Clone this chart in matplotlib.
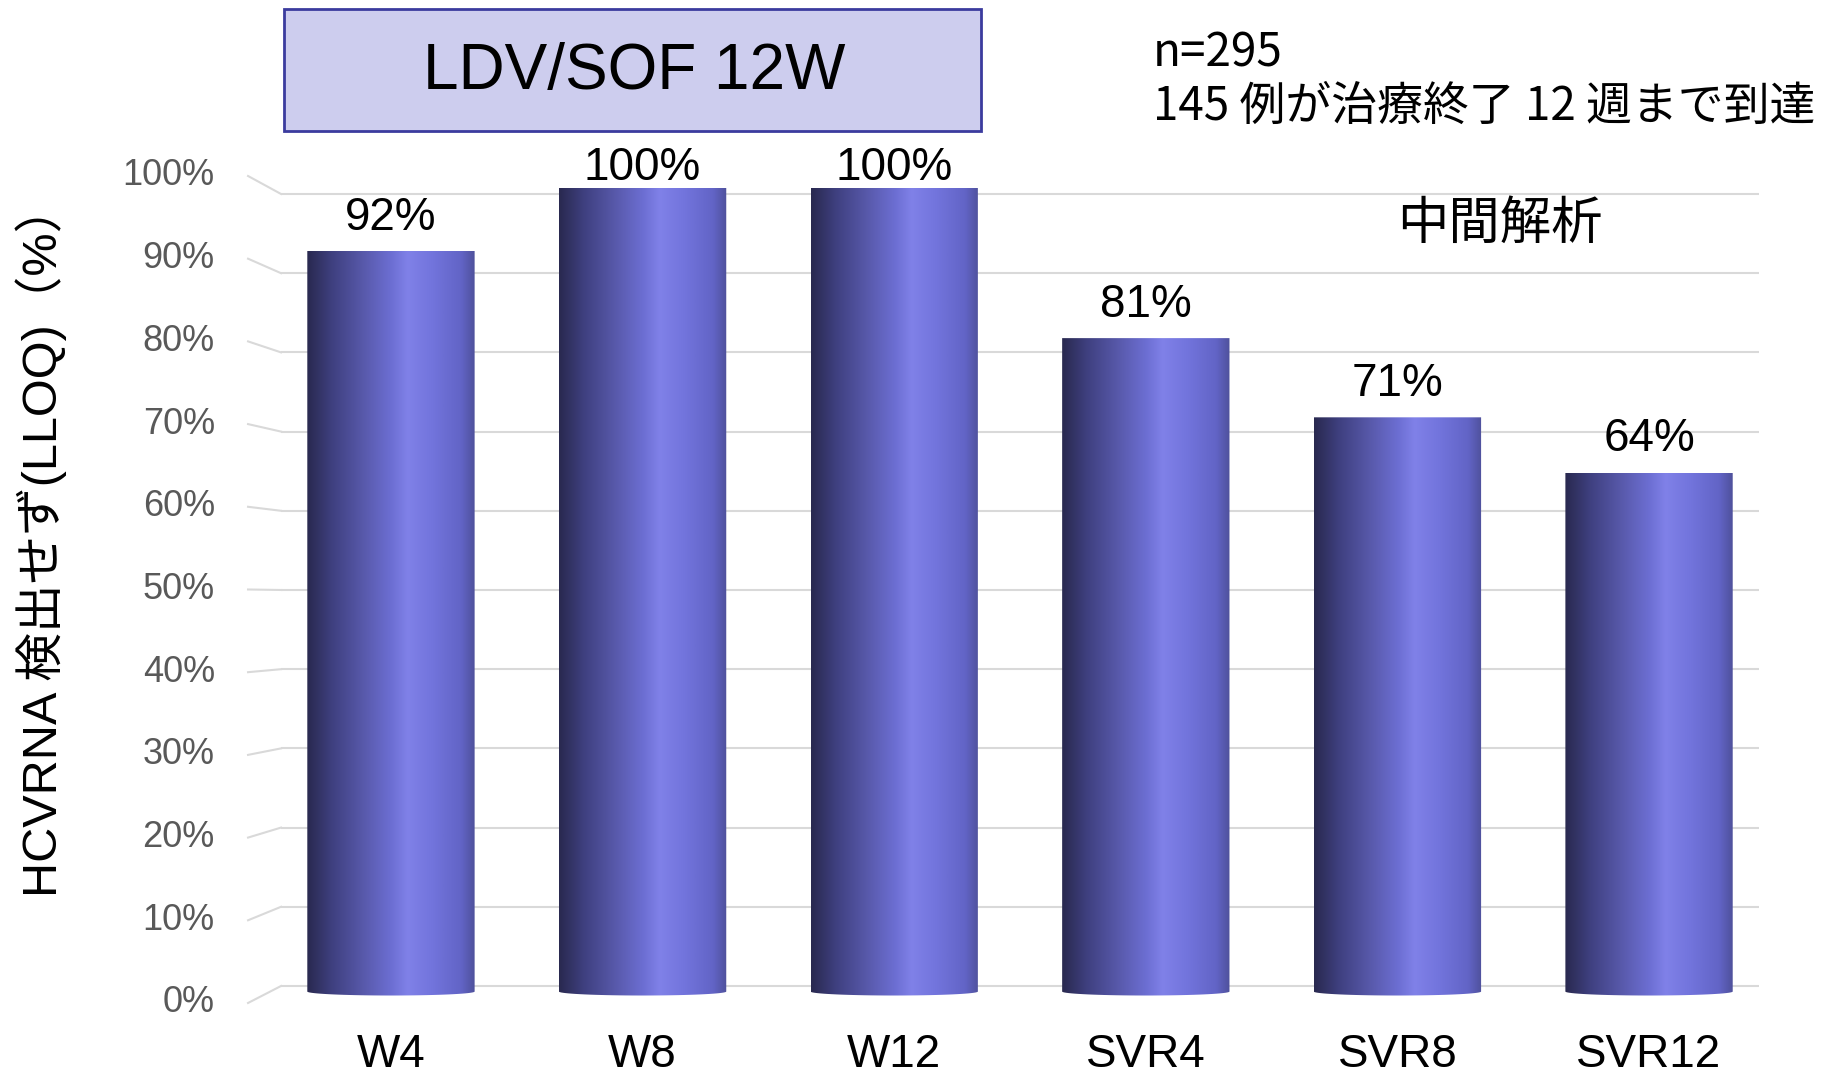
import numpy as np
import matplotlib
matplotlib.use('Agg')
import matplotlib.pyplot as plt
from matplotlib.colors import LinearSegmentedColormap
from matplotlib.patches import Rectangle, PathPatch
from matplotlib.path import Path

plt.rcParams['font.family'] = ['Liberation Sans', 'Noto Sans CJK JP']

# data
categories = ['W4', 'W8', 'W12', 'SVR4', 'SVR8', 'SVR12']
values = [92, 100, 100, 81, 71, 64]
value_labels = ['92%', '100%', '100%', '81%', '71%', '64%']
ytick_values = list(range(0, 101, 10))

# cylinder-style shading, dark on the left, highlight right of centre
bar_cmap = LinearSegmentedColormap.from_list('cyl', [
    (0.00, '#29294f'),
    (0.15, '#3f4080'),
    (0.35, '#5a5bae'),
    (0.50, '#6c6ed2'),
    (0.60, '#8081e8'),
    (0.75, '#7274dc'),
    (0.92, '#6264c6'),
    (1.00, '#4f519c'),
])

fig = plt.figure(figsize=(18.48, 10.78), dpi=100)
ax = fig.add_axes([0.15206, 0.0633, 0.79978, 0.7935])

x = np.arange(len(categories))
bar_w = 0.665
base = -1.2
grad = np.linspace(0, 1, 256).reshape(1, -1)

for xi, v in zip(x, values):
    top = v + 0.8
    im = ax.imshow(grad, extent=[xi - bar_w / 2, xi + bar_w / 2, base, top],
                   aspect='auto', cmap=bar_cmap, interpolation='bicubic', zorder=3)
    # rounded bottom edge of the cylinder
    t = np.linspace(0, np.pi, 40)
    arc_x = xi + (bar_w / 2) * np.cos(t)
    arc_y = base + 0.5 - 0.5 * np.sin(t)
    verts = [(xi - bar_w / 2, top), (xi + bar_w / 2, top)] + list(zip(arc_x, arc_y)) + [(xi - bar_w / 2, top)]
    codes = [Path.MOVETO] + [Path.LINETO] * (len(verts) - 2) + [Path.CLOSEPOLY]
    clip = PathPatch(Path(verts, codes), transform=ax.transData, facecolor='none', edgecolor='none')
    ax.add_patch(clip)
    im.set_clip_path(clip)

for xi, v, lab in zip(x, values, value_labels):
    off = 10 if v >= 100 else 20
    ax.annotate(lab, (xi, v), xytext=(0, off), textcoords='offset points',
                ha='center', va='baseline', fontsize=33, color='black', zorder=5)

ax.set_xlim(-0.437, 5.437)
ax.set_ylim(-3, 105)

ax.set_yticks(ytick_values)
ax.yaxis.grid(True, color='#d9d9d9', linewidth=1.5, zorder=0)
ax.tick_params(axis='y', length=0, labelleft=False)
ax.set_axisbelow(True)

ax.set_xticks(x)
ax.set_xticklabels(categories, fontsize=33)
ax.tick_params(axis='x', length=0, pad=17)

for s in ax.spines.values():
    s.set_visible(False)

# perspective stubs on the left of each gridline, plus the tick labels
for v in ytick_values:
    left_y = v - (17 - 0.35 * v) / 7.933
    ax.plot([-0.568, -0.437], [left_y, v], color='#d9d9d9', linewidth=1.5,
            clip_on=False, zorder=0)
    ax.text(-0.70, left_y, f'{v}%', ha='right', va='center', fontsize=26,
            color='#595959')

fig.text(0.0222, 0.499, 'HCVRNA 検出せず(LLOQ)（%）', rotation=90,
         ha='center', va='center', fontsize=35)

# title box
fig.patches.append(Rectangle((0.15368, 0.8785), 0.3772, 0.1132,
                             transform=fig.transFigure, facecolor='#cdcdee',
                             edgecolor='#3b3b9e', linewidth=2))
fig.text(0.3431, 0.9332, 'LDV/SOF 12W', ha='center', va='center', fontsize=46)

fig.text(0.6239, 0.9508, 'n=295', ha='left', va='center', fontsize=33,
         family='Noto Sans CJK JP')
fig.text(0.6239, 0.9007, '145 例が治療終了 12 週まで到達', ha='left', va='center',
         fontsize=33, family='Noto Sans CJK JP')
fig.text(0.8117, 0.7922, '中間解析', ha='center', va='center', fontsize=37,
         family='Noto Sans CJK JP')

fig.savefig('out.png', dpi=100, facecolor='white')
